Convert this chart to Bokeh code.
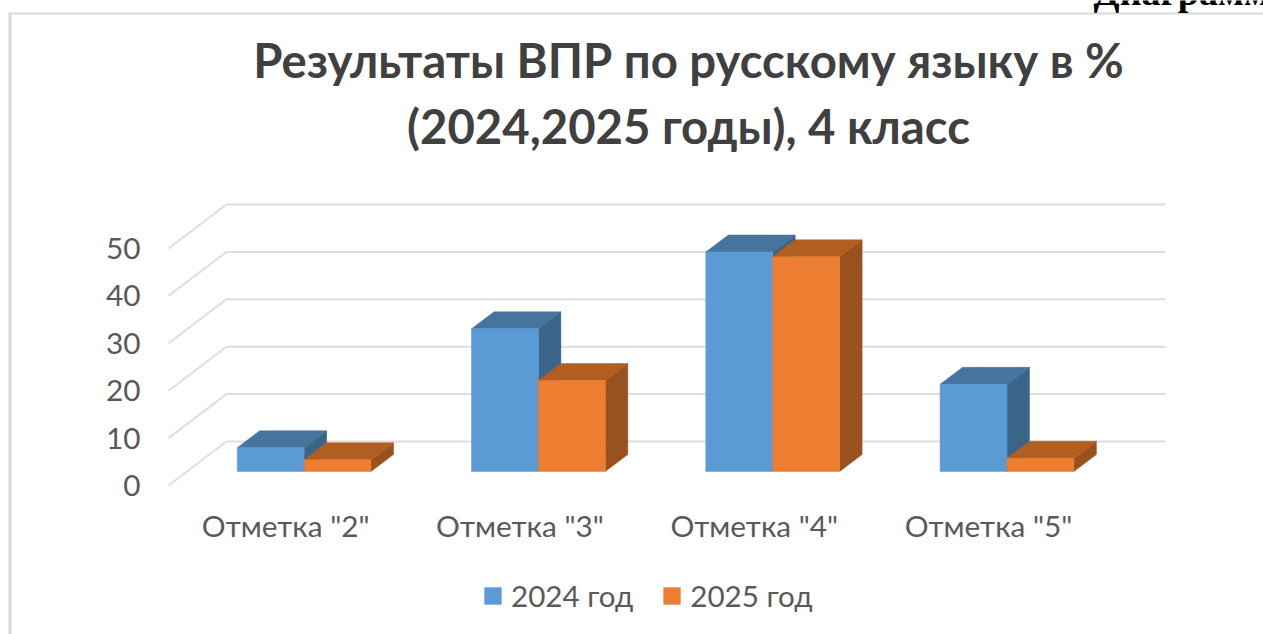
from bokeh.plotting import figure
from bokeh.models import Label, BoxAnnotation, Legend, LegendItem, FixedTicker, Range1d, LinearAxis
from bokeh.embed import file_html
from bokeh.resources import INLINE

categories = ['Отметка "2"', 'Отметка "3"', 'Отметка "4"', 'Отметка "5"']
series_2024 = [5.0, 30.1, 46.3, 18.4]
series_2025 = [2.5, 19.2, 45.3, 2.8]
y_ticks = [0, 10, 20, 30, 40, 50]
series_names = ["2024 год", "2025 год"]
title_lines = ["Результаты ВПР по русскому языку в %", "(2024,2025 годы), 4 класс"]

W, H = 1263, 634
X0, Y0 = 168.0, 485.0      # page pixel of x=0, y=0
SX, SY = 234.3, 4.74       # pixels per category, per value unit

# oblique projection, in data units
WALL_DX, WALL_DY = 58 / SX, 44 / SY
BAR_DX, BAR_DY = 22.5 / SX, 17 / SY
BASE = 14 / SY
BAR_LEFT = (236.7 - X0) / SX
BAR_W = 66.9 / SX
RIGHT_END = (1165 - X0) / SX

p = figure(width=W, height=H, output_backend="svg", toolbar_location=None,
           x_axis_type=None, y_axis_type=None,
           x_range=Range1d(-X0 / SX, (W - X0) / SX),
           y_range=Range1d((Y0 - H) / SY, Y0 / SY),
           min_border=0)
p.outline_line_color = None
p.grid.visible = False

AX = "#595959"
xt = [i + 0.5 for i in range(len(categories))]
yaxis = LinearAxis(fixed_location=0, ticker=FixedTicker(ticks=y_ticks), major_label_standoff=22)
xaxis = LinearAxis(fixed_location=0, ticker=FixedTicker(ticks=xt), major_label_standoff=16,
                   major_label_overrides={t: c for t, c in zip(xt, categories)})
for ax in (xaxis, yaxis):
    ax.axis_line_color = None
    ax.major_tick_line_color = None
    ax.minor_tick_line_color = None
    ax.major_label_text_color = AX
    ax.major_label_text_font = "Lato"
    ax.major_label_text_font_size = "29.8px"
p.add_layout(yaxis, "left")
p.add_layout(xaxis, "below")

# gridlines: side wall + back wall
p.multi_line([[0, WALL_DX, RIGHT_END] for _ in y_ticks],
             [[t, t + WALL_DY, t + WALL_DY] for t in y_ticks],
             line_color="#dedede", line_width=2)

def bars(vals, offset, front, top, side):
    lefts = [i + BAR_LEFT + offset * BAR_W for i in range(len(vals))]
    rights = [l + BAR_W for l in lefts]
    p.patches([[r, r + BAR_DX, r + BAR_DX, r] for r in rights],
              [[BASE, BASE + BAR_DY, v + BASE + BAR_DY, v + BASE] for v in vals],
              fill_color=side, line_color=side, line_width=0.5)
    p.patches([[l, l + BAR_DX, r + BAR_DX, r] for l, r in zip(lefts, rights)],
              [[v + BASE, v + BASE + BAR_DY, v + BASE + BAR_DY, v + BASE] for v in vals],
              fill_color=top, line_color=top, line_width=0.5)
    return p.vbar(x=[(l + r) / 2 for l, r in zip(lefts, rights)], width=BAR_W,
                  bottom=BASE, top=[v + BASE for v in vals],
                  fill_color=front, line_color=front, line_width=0.5)

r1 = bars(series_2024, 0, "#5B9BD5", "#45749F", "#3A6589")
r2 = bars(series_2025, 1, "#ED7D31", "#B25E20", "#99511E")

legend = Legend(items=[LegendItem(label=n, renderers=[r]) for n, r in zip(series_names, (r1, r2))],
                orientation="horizontal", location=(482, H - 613),
                background_fill_alpha=0, border_line_color=None,
                glyph_width=21, glyph_height=21, label_standoff=8, spacing=28,
                padding=6, margin=0,
                label_text_font="Lato", label_text_font_size="29.6px", label_text_color=AX)
p.add_layout(legend, "center")

# chart area frame
for kw in (dict(left=8, right=11, top=H - 12, bottom=0),
           dict(left=8, right=W, top=H - 12, bottom=H - 14)):
    p.add_layout(BoxAnnotation(left_units="screen", right_units="screen",
                               top_units="screen", bottom_units="screen",
                               fill_color="#d9d9d9", fill_alpha=1, line_alpha=0, **kw))

for line, yc in zip(title_lines, (59, 125)):
    p.add_layout(Label(x=688, y=H - yc, x_units="screen", y_units="screen",
                       text=line, text_align="center", text_baseline="middle",
                       text_font="Lato", text_font_style="bold",
                       text_font_size="47.3px", text_color="#404040"))

p.add_layout(Label(x=1093, y=H + 9, x_units="screen", y_units="screen",
                   text="Диаграмма", text_align="left", text_baseline="alphabetic",
                   text_font="Liberation Serif", text_font_style="bold",
                   text_font_size="38px", text_color="#000000"))

open("out.html", "w").write(file_html(p, INLINE))
